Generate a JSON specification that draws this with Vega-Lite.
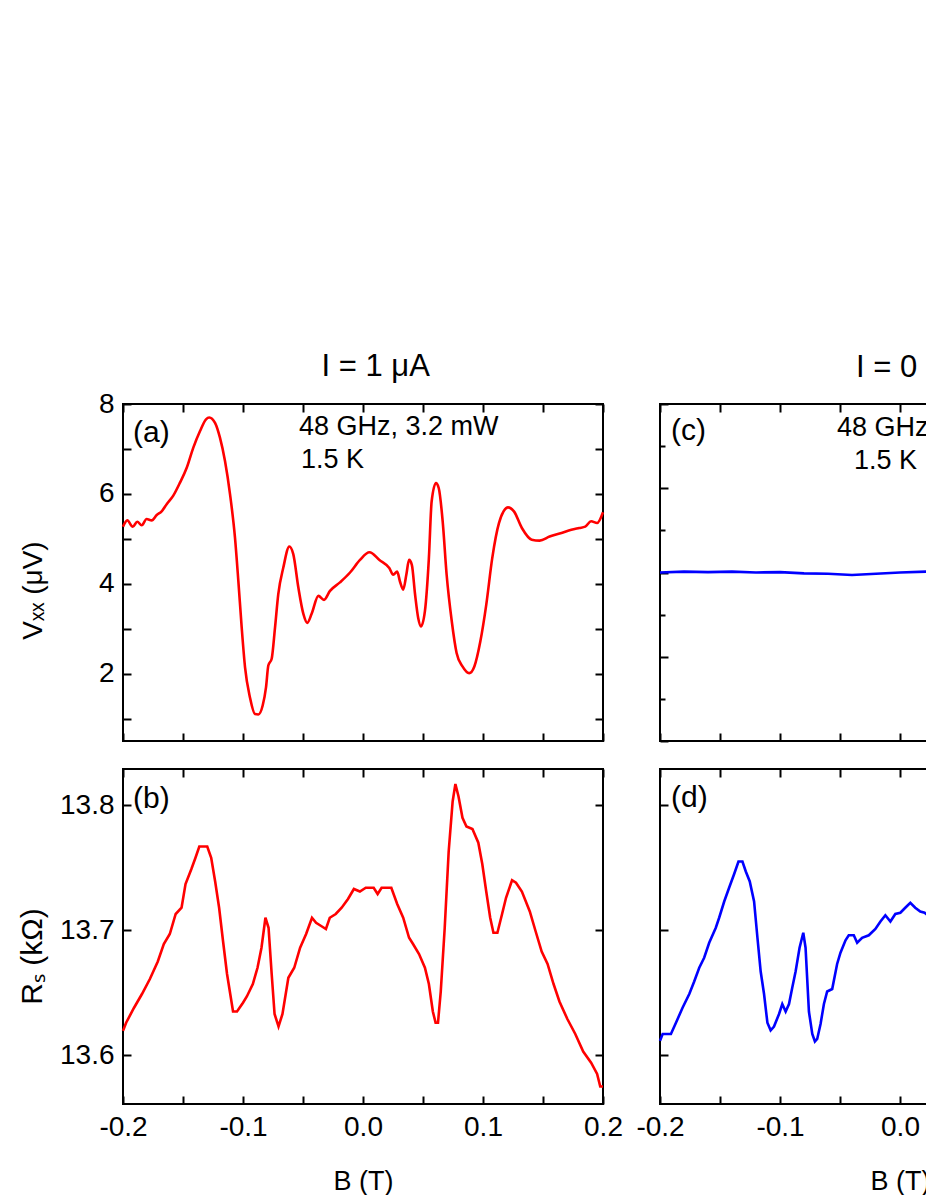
{
  "$schema": "https://vega.github.io/schema/vega-lite/v6.json",
  "padding": {"left": 16, "top": 351, "right": 0, "bottom": 0},
  "background": "white",
  "config": {
    "view": {"stroke": "#000000", "strokeWidth": 2},
    "axis": {"grid": false, "domain": false, "ticks": true, "tickColor": "#000000", "tickWidth": 2, "labelFont": "Liberation Sans", "labelFontSize": 28, "labelColor": "#000000", "labelFlush": false, "labelOverlap": false, "labelBound": false, "titleFont": "Liberation Sans", "titleFontWeight": "normal", "titleColor": "#000000"},
    "title": {"font": "Liberation Sans", "fontSize": 31, "fontWeight": "normal", "color": "#000000"},
    "text": {"font": "Liberation Sans", "color": "#000000"}
  },
  "datasets": {
    "a": [
      {"B": -0.2, "V": 5.27}, {"B": -0.1964, "V": 5.41}, {"B": -0.1919, "V": 5.27}, {"B": -0.1881, "V": 5.38}, {"B": -0.1844, "V": 5.3}, {"B": -0.1803, "V": 5.44}, {"B": -0.1761, "V": 5.41}, {"B": -0.1719, "V": 5.53}, {"B": -0.1678, "V": 5.61}, {"B": -0.1636, "V": 5.77}, {"B": -0.1581, "V": 5.96}, {"B": -0.1525, "V": 6.25}, {"B": -0.1469, "V": 6.58}, {"B": -0.1414, "V": 7.03}, {"B": -0.1358, "V": 7.4}, {"B": -0.1308, "V": 7.66}, {"B": -0.1281, "V": 7.7}, {"B": -0.1233, "V": 7.58}, {"B": -0.1192, "V": 7.25}, {"B": -0.115, "V": 6.73}, {"B": -0.1108, "V": 5.99}, {"B": -0.1067, "V": 5.03}, {"B": -0.1039, "V": 4.07}, {"B": -0.1011, "V": 3.03}, {"B": -0.0983, "V": 2.14}, {"B": -0.0942, "V": 1.47}, {"B": -0.09, "V": 1.1}, {"B": -0.0872, "V": 1.09}, {"B": -0.0836, "V": 1.29}, {"B": -0.0808, "V": 1.7}, {"B": -0.0789, "V": 2.18}, {"B": -0.0761, "V": 2.33}, {"B": -0.0733, "V": 3.03}, {"B": -0.0706, "V": 3.77}, {"B": -0.0664, "V": 4.36}, {"B": -0.0614, "V": 4.83}, {"B": -0.0581, "V": 4.66}, {"B": -0.0539, "V": 3.92}, {"B": -0.0497, "V": 3.33}, {"B": -0.0464, "V": 3.13}, {"B": -0.0428, "V": 3.33}, {"B": -0.0372, "V": 3.73}, {"B": -0.0325, "V": 3.64}, {"B": -0.0275, "V": 3.84}, {"B": -0.0192, "V": 4.03}, {"B": -0.0108, "V": 4.25}, {"B": -0.0025, "V": 4.53}, {"B": 0.0054, "V": 4.7}, {"B": 0.0137, "V": 4.53}, {"B": 0.0219, "V": 4.35}, {"B": 0.0252, "V": 4.2}, {"B": 0.0285, "V": 4.27}, {"B": 0.0308, "V": 4.05}, {"B": 0.0335, "V": 3.87}, {"B": 0.0361, "V": 4.2}, {"B": 0.0384, "V": 4.53}, {"B": 0.0407, "V": 4.42}, {"B": 0.0434, "V": 3.76}, {"B": 0.046, "V": 3.24}, {"B": 0.0483, "V": 3.05}, {"B": 0.0516, "V": 3.39}, {"B": 0.0549, "V": 4.57}, {"B": 0.0572, "V": 5.83}, {"B": 0.0608, "V": 6.24}, {"B": 0.0631, "V": 6.13}, {"B": 0.0664, "V": 5.39}, {"B": 0.0697, "V": 4.2}, {"B": 0.074, "V": 3.16}, {"B": 0.078, "V": 2.46}, {"B": 0.0829, "V": 2.16}, {"B": 0.0885, "V": 2.01}, {"B": 0.0928, "V": 2.16}, {"B": 0.0978, "V": 2.72}, {"B": 0.1027, "V": 3.53}, {"B": 0.1077, "V": 4.57}, {"B": 0.1133, "V": 5.35}, {"B": 0.1209, "V": 5.7}, {"B": 0.1258, "V": 5.61}, {"B": 0.1324, "V": 5.24}, {"B": 0.1406, "V": 4.98}, {"B": 0.1472, "V": 4.96}, {"B": 0.1555, "V": 5.05}, {"B": 0.1654, "V": 5.13}, {"B": 0.1736, "V": 5.2}, {"B": 0.1802, "V": 5.24}, {"B": 0.1852, "V": 5.27}, {"B": 0.1901, "V": 5.39}, {"B": 0.1951, "V": 5.35}, {"B": 0.2, "V": 5.59}
    ],
    "b": [
      {"B": -0.2, "R": 13.6195}, {"B": -0.1974, "R": 13.626}, {"B": -0.1908, "R": 13.638}, {"B": -0.1842, "R": 13.649}, {"B": -0.1776, "R": 13.661}, {"B": -0.171, "R": 13.675}, {"B": -0.166, "R": 13.689}, {"B": -0.161, "R": 13.697}, {"B": -0.1561, "R": 13.713}, {"B": -0.1512, "R": 13.718}, {"B": -0.1479, "R": 13.737}, {"B": -0.143, "R": 13.749}, {"B": -0.1396, "R": 13.758}, {"B": -0.1364, "R": 13.767}, {"B": -0.1298, "R": 13.767}, {"B": -0.1265, "R": 13.758}, {"B": -0.1232, "R": 13.739}, {"B": -0.1199, "R": 13.718}, {"B": -0.1166, "R": 13.691}, {"B": -0.1133, "R": 13.665}, {"B": -0.1083, "R": 13.635}, {"B": -0.105, "R": 13.635}, {"B": -0.1, "R": 13.642}, {"B": -0.0968, "R": 13.647}, {"B": -0.0918, "R": 13.657}, {"B": -0.0879, "R": 13.67}, {"B": -0.0846, "R": 13.686}, {"B": -0.0813, "R": 13.71}, {"B": -0.0787, "R": 13.702}, {"B": -0.0761, "R": 13.665}, {"B": -0.0737, "R": 13.633}, {"B": -0.0704, "R": 13.623}, {"B": -0.0671, "R": 13.633}, {"B": -0.0622, "R": 13.662}, {"B": -0.0573, "R": 13.67}, {"B": -0.0524, "R": 13.686}, {"B": -0.0474, "R": 13.697}, {"B": -0.0425, "R": 13.71}, {"B": -0.0391, "R": 13.706}, {"B": -0.0342, "R": 13.703}, {"B": -0.0309, "R": 13.701}, {"B": -0.0277, "R": 13.71}, {"B": -0.0227, "R": 13.713}, {"B": -0.0178, "R": 13.718}, {"B": -0.0125, "R": 13.725}, {"B": -0.0076, "R": 13.733}, {"B": -0.0026, "R": 13.731}, {"B": 0.0023, "R": 13.734}, {"B": 0.0089, "R": 13.734}, {"B": 0.0122, "R": 13.729}, {"B": 0.0155, "R": 13.734}, {"B": 0.0236, "R": 13.734}, {"B": 0.0285, "R": 13.721}, {"B": 0.0335, "R": 13.71}, {"B": 0.0384, "R": 13.694}, {"B": 0.0417, "R": 13.689}, {"B": 0.0467, "R": 13.681}, {"B": 0.0516, "R": 13.67}, {"B": 0.0549, "R": 13.657}, {"B": 0.0582, "R": 13.635}, {"B": 0.0605, "R": 13.626}, {"B": 0.0625, "R": 13.626}, {"B": 0.0648, "R": 13.651}, {"B": 0.0681, "R": 13.702}, {"B": 0.0714, "R": 13.763}, {"B": 0.0747, "R": 13.803}, {"B": 0.077, "R": 13.817}, {"B": 0.0796, "R": 13.807}, {"B": 0.0829, "R": 13.79}, {"B": 0.0862, "R": 13.783}, {"B": 0.0912, "R": 13.781}, {"B": 0.0961, "R": 13.77}, {"B": 0.0994, "R": 13.753}, {"B": 0.1027, "R": 13.731}, {"B": 0.106, "R": 13.71}, {"B": 0.1087, "R": 13.698}, {"B": 0.112, "R": 13.698}, {"B": 0.1159, "R": 13.713}, {"B": 0.1192, "R": 13.726}, {"B": 0.1242, "R": 13.74}, {"B": 0.1275, "R": 13.738}, {"B": 0.1324, "R": 13.731}, {"B": 0.139, "R": 13.715}, {"B": 0.1439, "R": 13.699}, {"B": 0.1489, "R": 13.683}, {"B": 0.1538, "R": 13.673}, {"B": 0.1588, "R": 13.657}, {"B": 0.1637, "R": 13.643}, {"B": 0.1703, "R": 13.629}, {"B": 0.1769, "R": 13.617}, {"B": 0.1835, "R": 13.603}, {"B": 0.1901, "R": 13.594}, {"B": 0.1951, "R": 13.585}, {"B": 0.1977, "R": 13.575}, {"B": 0.2, "R": 13.575}
    ],
    "c": [
      {"B": -0.2, "V": 0.0}, {"B": -0.18, "V": 0.02}, {"B": -0.16, "V": 0.01}, {"B": -0.14, "V": 0.02}, {"B": -0.12, "V": 0.0}, {"B": -0.1, "V": 0.01}, {"B": -0.08, "V": -0.02}, {"B": -0.06, "V": -0.03}, {"B": -0.04, "V": -0.06}, {"B": -0.02, "V": -0.03}, {"B": 0.0, "V": 0.0}, {"B": 0.022, "V": 0.02}
    ],
    "d": [
      {"B": -0.2, "R": 13.6115}, {"B": -0.1978, "R": 13.617}, {"B": -0.1909, "R": 13.617}, {"B": -0.1867, "R": 13.626}, {"B": -0.1812, "R": 13.638}, {"B": -0.1756, "R": 13.649}, {"B": -0.1715, "R": 13.659}, {"B": -0.1673, "R": 13.67}, {"B": -0.1632, "R": 13.678}, {"B": -0.159, "R": 13.69}, {"B": -0.1535, "R": 13.702}, {"B": -0.1507, "R": 13.71}, {"B": -0.1465, "R": 13.723}, {"B": -0.1424, "R": 13.734}, {"B": -0.1382, "R": 13.745}, {"B": -0.1346, "R": 13.755}, {"B": -0.1313, "R": 13.755}, {"B": -0.1285, "R": 13.747}, {"B": -0.1252, "R": 13.739}, {"B": -0.1216, "R": 13.723}, {"B": -0.1188, "R": 13.694}, {"B": -0.1161, "R": 13.667}, {"B": -0.1133, "R": 13.649}, {"B": -0.1105, "R": 13.626}, {"B": -0.1078, "R": 13.62}, {"B": -0.105, "R": 13.623}, {"B": -0.1008, "R": 13.633}, {"B": -0.0981, "R": 13.641}, {"B": -0.0953, "R": 13.635}, {"B": -0.0925, "R": 13.641}, {"B": -0.0898, "R": 13.654}, {"B": -0.087, "R": 13.667}, {"B": -0.0837, "R": 13.686}, {"B": -0.0806, "R": 13.698}, {"B": -0.0787, "R": 13.686}, {"B": -0.0759, "R": 13.635}, {"B": -0.0731, "R": 13.617}, {"B": -0.0709, "R": 13.611}, {"B": -0.069, "R": 13.613}, {"B": -0.0662, "R": 13.625}, {"B": -0.0634, "R": 13.641}, {"B": -0.0607, "R": 13.651}, {"B": -0.0565, "R": 13.653}, {"B": -0.0524, "R": 13.673}, {"B": -0.0496, "R": 13.682}, {"B": -0.0454, "R": 13.692}, {"B": -0.0427, "R": 13.696}, {"B": -0.0385, "R": 13.696}, {"B": -0.0357, "R": 13.69}, {"B": -0.0316, "R": 13.694}, {"B": -0.026, "R": 13.696}, {"B": -0.0205, "R": 13.701}, {"B": -0.0163, "R": 13.707}, {"B": -0.0122, "R": 13.712}, {"B": -0.008, "R": 13.707}, {"B": -0.0039, "R": 13.713}, {"B": 0.0003, "R": 13.714}, {"B": 0.0044, "R": 13.718}, {"B": 0.0086, "R": 13.722}, {"B": 0.0127, "R": 13.718}, {"B": 0.0169, "R": 13.715}, {"B": 0.0205, "R": 13.714}, {"B": 0.023, "R": 13.712}
    ]
  },
  "hconcat": [
    {
      "title": {"text": "I = 1 μA", "anchor": "middle", "dx": 56, "offset": -25, "baseline": "bottom"},
      "spacing": 28,
      "bounds": "flush",
      "vconcat": [
        {
          "width": 480, "height": 337,
          "layer": [
            {
              "data": {"name": "a"},
              "mark": {"type": "line", "color": "#ff0000", "strokeWidth": 2.6, "interpolate": "monotone"},
              "encoding": {
                "x": {"field": "B", "type": "quantitative", "scale": {"domain": [-0.2, 0.2], "nice": false, "zero": false},
                      "axis": {"orient": "bottom", "values": [-0.2, -0.15, -0.1, -0.05, 0, 0.05, 0.1, 0.15, 0.2], "labels": false, "tickSize": -8, "title": null}},
                "y": {"field": "V", "type": "quantitative", "scale": {"domain": [0.5, 8], "nice": false, "zero": false},
                      "axis": {"orient": "left", "values": [1, 2, 3, 4, 5, 6, 7, 8], "tickSize": -8, "labelPadding": 17,
                               "labelExpr": "datum.value % 2 == 0 ? format(datum.value, 'd') : ''",
                               "title": "Vₓₓ (μV)", "titleX": -82, "titleY": 186, "titleAngle": 270, "titleBaseline": "alphabetic", "titleFontSize": 28}}
              }
            },
            {
              "data": {"values": [{"B": -0.1917, "V": 7.35, "label": "(a)"}]},
              "mark": {"type": "text", "align": "left", "baseline": "middle", "fontSize": 30},
              "encoding": {
                "x": {"field": "B", "type": "quantitative",
                      "axis": {"orient": "top", "values": [-0.2, -0.15, -0.1, -0.05, 0, 0.05, 0.1, 0.15, 0.2], "labels": false, "tickSize": -8, "title": null}},
                "y": {"field": "V", "type": "quantitative",
                      "axis": {"orient": "right", "values": [1, 2, 3, 4, 5, 6, 7, 8], "labels": false, "tickSize": -8, "title": null}},
                "text": {"field": "label"}
              }
            },
            {
              "data": {"values": [{"B": -0.0533, "V": 7.49, "label": "48 GHz, 3.2 mW"}, {"B": -0.0517, "V": 6.75, "label": "1.5 K"}]},
              "mark": {"type": "text", "align": "left", "baseline": "middle", "fontSize": 27},
              "encoding": {
                "x": {"field": "B", "type": "quantitative", "axis": null},
                "y": {"field": "V", "type": "quantitative", "axis": null},
                "text": {"field": "label"}
              }
            }
          ],
          "resolve": {"axis": {"x": "independent", "y": "independent"}}
        },
        {
          "width": 480, "height": 335,
          "layer": [
            {
              "data": {"name": "b"},
              "mark": {"type": "line", "color": "#ff0000", "strokeWidth": 2.6},
              "encoding": {
                "x": {"field": "B", "type": "quantitative", "scale": {"domain": [-0.2, 0.2], "nice": false, "zero": false},
                      "axis": {"orient": "bottom", "values": [-0.2, -0.15, -0.1, -0.05, 0, 0.05, 0.1, 0.15, 0.2], "tickSize": -8, "labelPadding": 17,
                               "labelExpr": "abs(round(datum.value*20)) % 2 == 1 ? '' : (datum.value < -0.001 ? '-' + format(-datum.value, '.1f') : format(abs(datum.value), '.1f'))",
                               "title": "B (T)", "titleY": 85, "titleBaseline": "alphabetic", "titleFontSize": 27}},
                "y": {"field": "R", "type": "quantitative", "scale": {"domain": [13.561, 13.829], "nice": false, "zero": false},
                      "axis": {"orient": "left", "values": [13.6, 13.7, 13.8], "tickSize": -8, "labelPadding": 17, "format": ".1f",
                               "title": "Rₛ (kΩ)", "titleX": -82, "titleY": 187, "titleAngle": 270, "titleBaseline": "alphabetic", "titleFontSize": 30}}
              }
            },
            {
              "data": {"values": [{"B": -0.1917, "R": 13.805, "label": "(b)"}]},
              "mark": {"type": "text", "align": "left", "baseline": "middle", "fontSize": 30},
              "encoding": {
                "x": {"field": "B", "type": "quantitative",
                      "axis": {"orient": "top", "values": [-0.2, -0.15, -0.1, -0.05, 0, 0.05, 0.1, 0.15, 0.2], "labels": false, "tickSize": -8, "title": null}},
                "y": {"field": "R", "type": "quantitative",
                      "axis": {"orient": "right", "values": [13.6, 13.7, 13.8], "labels": false, "tickSize": -8, "title": null}},
                "text": {"field": "label"}
              }
            }
          ],
          "resolve": {"axis": {"x": "independent", "y": "independent"}}
        }
      ]
    },
    {
      "title": {"text": "I = 0", "anchor": "middle", "dx": -11, "offset": -13, "baseline": "bottom"},
      "spacing": 28,
      "bounds": "flush",
      "vconcat": [
        {
          "width": 480, "height": 337,
          "layer": [
            {
              "data": {"name": "c"},
              "mark": {"type": "line", "color": "#0000ff", "strokeWidth": 2.6},
              "encoding": {
                "x": {"field": "B", "type": "quantitative", "scale": {"domain": [-0.2, 0.2], "nice": false, "zero": false},
                      "axis": {"orient": "bottom", "values": [-0.2, -0.15, -0.1, -0.05, 0, 0.05, 0.1, 0.15, 0.2], "labels": false, "tickSize": -8, "title": null}},
                "y": {"field": "V", "type": "quantitative", "scale": {"domain": [-4, 4], "nice": false, "zero": false},
                      "axis": {"orient": "left", "values": [-4, -2, 0, 2, 4], "labels": false, "tickSize": -8, "title": null}}
              }
            },
            {
              "data": {"values": [{"B": -0.1908, "V": 3.36, "label": "(c)"}]},
              "mark": {"type": "text", "align": "left", "baseline": "middle", "fontSize": 30},
              "encoding": {
                "x": {"field": "B", "type": "quantitative",
                      "axis": {"orient": "top", "values": [-0.2, -0.15, -0.1, -0.05, 0, 0.05, 0.1, 0.15, 0.2], "labels": false, "tickSize": -8, "title": null}},
                "y": {"field": "V", "type": "quantitative",
                      "axis": {"orient": "right", "values": [-4, -2, 0, 2, 4], "labels": false, "tickSize": -8, "title": null}},
                "text": {"field": "label"}
              }
            },
            {
              "data": {"values": [{"B": -0.0525, "V": 3.43, "label": "48 GHz, 3.2 mW"}]},
              "mark": {"type": "text", "align": "left", "baseline": "middle", "fontSize": 27},
              "encoding": {
                "x": {"field": "B", "type": "quantitative", "axis": null},
                "y": {"field": "V", "type": "quantitative",
                      "axis": {"orient": "left", "values": [-3, -1, 1, 3], "labels": false, "tickSize": -5, "title": null}},
                "text": {"field": "label"}
              }
            },
            {
              "data": {"values": [{"B": -0.0383, "V": 2.65, "label": "1.5 K"}]},
              "mark": {"type": "text", "align": "left", "baseline": "middle", "fontSize": 27},
              "encoding": {
                "x": {"field": "B", "type": "quantitative", "axis": null},
                "y": {"field": "V", "type": "quantitative",
                      "axis": {"orient": "right", "values": [-3, -1, 1, 3], "labels": false, "tickSize": -5, "title": null}},
                "text": {"field": "label"}
              }
            }
          ],
          "resolve": {"axis": {"x": "independent", "y": "independent"}}
        },
        {
          "width": 480, "height": 335,
          "layer": [
            {
              "data": {"name": "d"},
              "mark": {"type": "line", "color": "#0000ff", "strokeWidth": 2.6},
              "encoding": {
                "x": {"field": "B", "type": "quantitative", "scale": {"domain": [-0.2, 0.2], "nice": false, "zero": false},
                      "axis": {"orient": "bottom", "values": [-0.2, -0.15, -0.1, -0.05, 0, 0.05, 0.1, 0.15, 0.2], "tickSize": -8, "labelPadding": 17,
                               "labelExpr": "abs(round(datum.value*20)) % 2 == 1 ? '' : (datum.value < -0.001 ? '-' + format(-datum.value, '.1f') : format(abs(datum.value), '.1f'))",
                               "title": "B (T)", "titleY": 85, "titleBaseline": "alphabetic", "titleFontSize": 27}},
                "y": {"field": "R", "type": "quantitative", "scale": {"domain": [13.561, 13.829], "nice": false, "zero": false},
                      "axis": {"orient": "left", "values": [13.6, 13.7, 13.8], "labels": false, "tickSize": -8, "title": null}}
              }
            },
            {
              "data": {"values": [{"B": -0.1908, "R": 13.806, "label": "(d)"}]},
              "mark": {"type": "text", "align": "left", "baseline": "middle", "fontSize": 30},
              "encoding": {
                "x": {"field": "B", "type": "quantitative",
                      "axis": {"orient": "top", "values": [-0.2, -0.15, -0.1, -0.05, 0, 0.05, 0.1, 0.15, 0.2], "labels": false, "tickSize": -8, "title": null}},
                "y": {"field": "R", "type": "quantitative",
                      "axis": {"orient": "right", "values": [13.6, 13.7, 13.8], "labels": false, "tickSize": -8, "title": null}},
                "text": {"field": "label"}
              }
            }
          ],
          "resolve": {"axis": {"x": "independent", "y": "independent"}}
        }
      ]
    }
  ],
  "spacing": 10
}
